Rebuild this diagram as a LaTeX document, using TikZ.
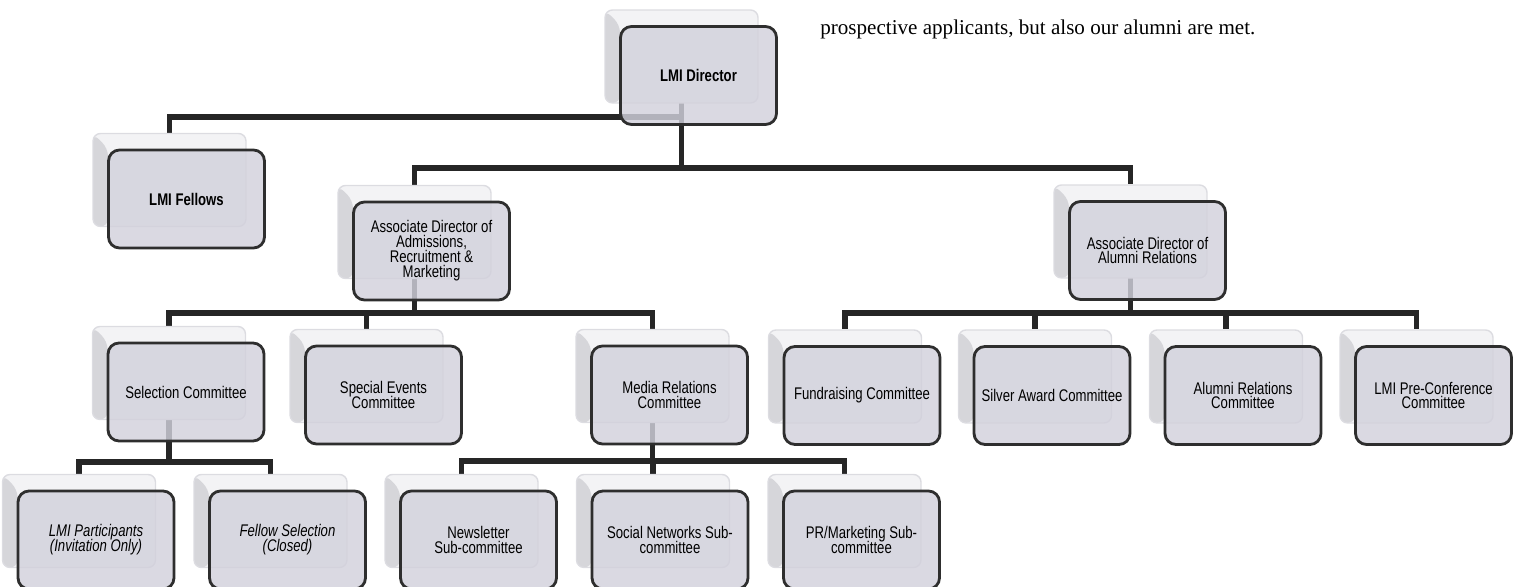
\documentclass[tikz,border=0pt]{standalone}
\usepackage{fontspec}
\setmainfont{Liberation Serif}
\newfontfamily\boxfont[FakeStretch=0.78]{Liberation Sans}
\usepackage{tikz}
\usetikzlibrary{backgrounds}
\definecolor{boxfill}{HTML}{D2D1DC}
\definecolor{boxedge}{HTML}{2E2E2E}
\definecolor{ghost}{HTML}{F3F3F5}
\definecolor{ghostedge}{HTML}{DCDCE1}
\definecolor{bevel}{HTML}{D6D6DA}
\definecolor{linkcol}{HTML}{262626}

\tikzset{
  unitbox/.style={draw=boxedge, line width=1.6pt, fill=boxfill, fill opacity=0.82, text opacity=1,
    rounded corners=0.22cm, minimum width=3.12cm, minimum height=1.96cm, inner sep=0pt, align=center,
    font={\boxfont\fontsize{9.6}{8.5}\selectfont}},
  backbox/.style={draw=ghostedge, line width=0.8pt, fill=ghost, rounded corners=0.15cm,
    minimum width=3.06cm, minimum height=1.86cm,
    path picture={\fill[bevel] (path picture bounding box.north west) -- ++(0.3cm,-0.3cm)
      |- (path picture bounding box.south west) -- cycle;}},
  link/.style={draw=linkcol, line width=3pt}
}

\newcommand{\orgunit}[3]{%
  \coordinate (#1-c) at (#2);
  \node[backbox] (#1-b) at ([shift={(-17,-19)}]#1-c) {};
  \node[unitbox] (#1) at (#1-c) {#3};
}

\begin{document}
\setlength{\lineskiplimit}{-10pt}
\begin{tikzpicture}[x=0.02cm, y=-0.02cm]
        \useasboundingbox (0,0) rectangle (1522,587);
        \node[anchor=base west, inner sep=0pt, font={\fontsize{12}{14}\selectfont}] (note) at (820,35)
          {prospective applicants, but also our alumni are met.};

        \orgunit{dir}{698.5,75.5}{\bfseries LMI Director}
        \orgunit{fel}{186.5,199}{\bfseries LMI Fellows}
        \orgunit{adm}{431.5,251}{Associate Director of\\Admissions,\\Recruitment \&\\Marketing}
        \orgunit{alu}{1147.5,250.5}{Associate Director of\\Alumni Relations}
        \orgunit{sel}{186,392}{Selection Committee}
        \orgunit{spe}{383.5,395}{Special Events\\Committee}
        \orgunit{med}{669.5,395}{Media Relations\\Committee}
        \orgunit{fun}{862,395.5}{Fundraising Committee}
        \orgunit{sil}{1052,395.5}{Silver Award Committee}
        \orgunit{alr}{1243,395.5}{Alumni Relations\\Committee}
        \orgunit{pre}{1433.5,395.5}{LMI Pre-Conference\\Committee}
        \orgunit{par}{96,540}{\itshape LMI Participants\\\itshape (Invitation Only)}
        \orgunit{fsl}{287.5,540}{\itshape Fellow Selection\\\itshape (Closed)}
        \orgunit{new}{478.5,540}{Newsletter\\Sub-committee}
        \orgunit{soc}{670,540}{Social Networks Sub-\\committee}
        \orgunit{prm}{861.5,540}{PR/Marketing Sub-\\committee}

        \coordinate (fbus) at (0,117);
        \coordinate (tbus) at (0,168);
        \coordinate (abus) at (0,313);
        \coordinate (sbus) at (0,462);
        \coordinate (mbus) at (0,461);

        \begin{scope}[on background layer]
          \draw[link] (dir-b.center) -- (dir-b |- fbus) -| (fel-b.north);
          \foreach \kid in {adm,alu}
            \draw[link] (dir-b.center) -- (dir-b |- tbus) -| (\kid-b.north);
          \foreach \kid in {sel,spe,med}
            \draw[link] (adm-b.center) -- (adm-b |- abus) -| (\kid-b.north);
          \foreach \kid in {fun,sil,alr,pre}
            \draw[link] (alu-b.center) -- (alu-b |- abus) -| (\kid-b.north);
          \foreach \kid in {par,fsl}
            \draw[link] (sel-b.center) -- (sel-b |- sbus) -| (\kid-b.north);
          \foreach \kid in {new,soc,prm}
            \draw[link] (med-b.center) -- (med-b |- mbus) -| (\kid-b.north);
        \end{scope}
      \end{tikzpicture}
\end{document}
